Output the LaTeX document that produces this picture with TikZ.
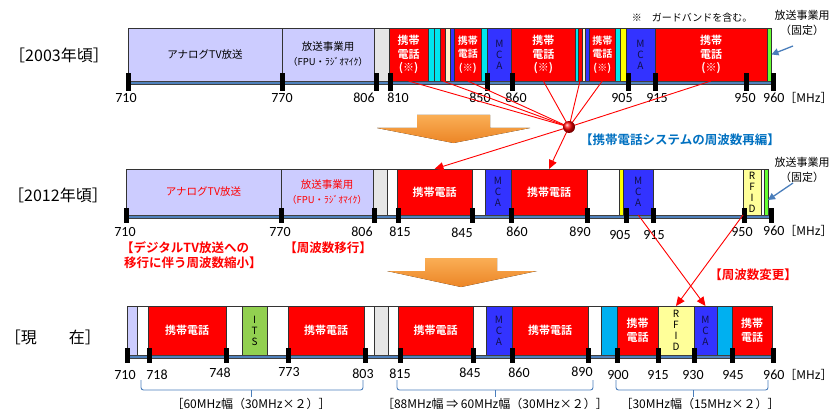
\documentclass[tikz,border=0pt]{standalone}
\usepackage{fontspec}
\setmainfont{Carlito}
\newfontfamily\jp{Noto Sans CJK JP}[BoldFont={Noto Sans CJK JP Bold}]
\usetikzlibrary{arrows.meta}
\definecolor{lav}{HTML}{CCCCFF}
\definecolor{gry}{HTML}{E6E6E6}
\definecolor{rd}{HTML}{FF0000}
\definecolor{cy}{HTML}{00E5EE}
\definecolor{bl}{HTML}{3333FF}
\definecolor{yl}{HTML}{FFFF00}
\definecolor{lyl}{HTML}{FFFF99}
\definecolor{crm}{HTML}{FFF2CC}
\definecolor{grn}{HTML}{66FF33}
\definecolor{itsg}{HTML}{92D050}
\definecolor{lbl}{HTML}{00B0F0}
\definecolor{axb}{HTML}{4F81BD}
\definecolor{brc}{HTML}{4A7EBB}
\definecolor{ttl}{HTML}{0070C0}
\definecolor{orA}{HTML}{FAAE55}
\definecolor{orB}{HTML}{EC8526}
\definecolor{navy}{HTML}{10104A}
\newcommand{\bandblk}[7]{%
  \pgfmathsetmacro\bw{#3-#2}\pgfmathsetmacro\bh{#5-#4}%
  \node[blkst, minimum width=\bw pt, minimum height=\bh pt, anchor=north west, #6] (#1) at (#2,#4) {#7};}
\begin{document}
\begin{tikzpicture}[x=1pt,y=-1pt,
  blkst/.style={draw=black!80, line width=0.6pt, inner sep=0pt, outer sep=0pt},
  celltxt/.style={text=white, align=center, font=\jp\bfseries\fontsize{11}{13.5}\selectfont},
  celltxs/.style={text=white, align=center, font=\jp\bfseries\fontsize{10}{13.5}\selectfont},
  cellone/.style={text=white, align=center, font=\jp\bfseries\fontsize{11}{13}\selectfont},
  vtxt/.style={text=navy, align=center, font=\jp\fontsize{10}{11}\selectfont},
  lavtxt/.style={align=center, font=\jp\fontsize{10.5}{15}\selectfont},
  fpu/.style={},
  axst/.style={fill=axb, draw=black!75, line width=0.5pt, inner sep=0pt, outer sep=0pt, anchor=north west},
  tickst/.style={fill=black, inner sep=0pt, minimum width=5pt},
  numlbl/.style={inner sep=0pt, font=\fontsize{14}{14}\selectfont},
  rowlbl/.style={inner sep=0pt, font=\jp\fontsize{16}{16}\selectfont},
  redtxt/.style={text=red, inner sep=0pt, font=\jp\bfseries\fontsize{12.5}{15}\selectfont},
  redln/.style={draw=red, line width=0.9pt},
  redarr/.style={draw=red, line width=0.9pt, -{Triangle[length=9pt,width=8pt]}},
  bluearr/.style={draw=brc, line width=1.3pt, -{Triangle[length=7pt,width=7pt]}},
  bracest/.style={draw=brc, line width=0.9pt, rounded corners=2.5pt},
  brlbl/.style={inner sep=0pt, font=\jp\fontsize{12}{12}\selectfont},
  fixlbl/.style={align=center, inner sep=0pt, font=\jp\fontsize{11}{15}\selectfont}
]
\useasboundingbox (0,0) rectangle (832,409);

% orange block arrows
\fill[top color=orA, bottom color=orB] (417,115) -- (490,115) -- (490,128) -- (530,128) -- (453.5,143) -- (377,128) -- (417,128) -- cycle;
\fill[top color=orA, bottom color=orB] (425,258) -- (497,258) -- (497,271) -- (537,271) -- (461,287) -- (387,271) -- (425,271) -- cycle;

% row labels
\node[rowlbl] (row1) at (59,55) {［2003年頃］};
\node[rowlbl] (row2) at (58,195) {［2012年頃］};
\node[rowlbl] (row3) at (53,337) {［現　　在］};

% ---------- top row (2003) ----------
\bandblk{t1}{128}{282}{28}{81}{fill=lav, lavtxt}{アナログTV放送}
\bandblk{t2}{282}{374}{28}{81}{fill=lav, lavtxt}{放送事業用\\{\fontsize{9.5}{10}\selectfont （FPU・ﾗｼﾞｵﾏｲｸ）}}
\bandblk{t3}{374}{389}{28}{81}{fill=gry}{}
\bandblk{t4}{389}{428}{28}{81}{fill=rd, celltxt}{携帯\\電話\\(※)}
\bandblk{t5}{428}{434}{28}{81}{fill=cy}{}
\bandblk{t6}{434}{440}{28}{81}{fill=cy}{}
\bandblk{t7}{440}{445.5}{28}{81}{fill=rd}{}
\bandblk{t8}{445.5}{450}{28}{81}{fill=crm}{}
\bandblk{t9}{450}{454}{28}{81}{fill=bl}{}
\bandblk{t10}{454}{481.5}{28}{81}{fill=rd, celltxs}{携帯\\電話\\(※)}
\bandblk{t11}{481.5}{487}{28}{81}{fill=cy}{}
\bandblk{t12}{487}{511.7}{28}{81}{fill=bl, vtxt}{M\\C\\A}
\bandblk{t13}{511.7}{575}{28}{81}{fill=rd, celltxt}{携帯\\電話\\(※)}
\bandblk{t14}{575}{578}{28}{81}{fill=cy}{}
\bandblk{t15}{578}{582}{28}{81}{fill=rd}{}
\bandblk{t16}{582}{585}{28}{81}{fill=crm}{}
\bandblk{t17}{585}{589.5}{28}{81}{fill=bl}{}
\bandblk{t18}{589.5}{615}{28}{81}{fill=rd, celltxs}{携帯\\電話\\(※)}
\bandblk{t19}{615}{620.7}{28}{81}{fill=cy}{}
\bandblk{t20}{620.7}{626}{28}{81}{fill=yl}{}
\bandblk{t21}{626}{655}{28}{81}{fill=bl, vtxt}{M\\C\\A}
\bandblk{t22}{655}{767}{28}{81}{fill=rd, celltxt}{携帯\\電話\\(※)}
\bandblk{t23}{767}{771.5}{28}{81}{fill=grn}{}
\node[axst, minimum width=645pt, minimum height=3.5pt] (ax1) at (128,81) {};
\foreach \x/\n in {128/710,282/770,376/806,390/810,487/850,512/860,628/905,655/915,746/950,773/960}
  \node[tickst, minimum height=18pt] (tt\n) at (\x,82) {};
\foreach \x/\n in {126/710,282/770,364/806,398/810,480/850,516/860,622/905,657/915,745/950}
  \node[numlbl] (tl\n) at (\x,98) {\n};
\node[numlbl, anchor=west] (tl960) at (763,98) {960{\jp\fontsize{12}{12}\selectfont［MHz］}};
\node[inner sep=0pt, font=\jp\fontsize{10}{10}\selectfont] (note) at (692,18) {※　ガードバンドを含む。};
\node[fixlbl] (fx1) at (802,22.5) {放送事業用\\（固定）};
\coordinate (a1s) at (793,46);
\draw[bluearr] (a1s) -- (t23.east);

% ---------- middle row (2012) ----------
\bandblk{m1}{126}{281}{169}{215}{fill=lav, lavtxt, text=red}{アナログTV放送}
\bandblk{m2}{281}{373}{169}{215}{fill=lav, lavtxt, text=red}{放送事業用\\{\fontsize{9.5}{10}\selectfont （FPU・ﾗｼﾞｵﾏｲｸ）}}
\bandblk{m3}{373}{387}{169}{215}{fill=gry}{}
\bandblk{m4}{387}{397}{169}{215}{fill=white}{}
\bandblk{m5}{397}{472}{169}{215}{fill=rd, cellone}{携帯電話}
\bandblk{m6}{472}{485}{169}{215}{fill=white}{}
\bandblk{m7}{485}{511}{169}{215}{fill=bl, vtxt}{M\\C\\A}
\bandblk{m8}{511}{587}{169}{215}{fill=rd, cellone}{携帯電話}
\bandblk{m9}{587}{619}{169}{215}{fill=white}{}
\bandblk{m10}{619}{623.5}{169}{215}{fill=yl}{}
\bandblk{m11}{623.5}{653}{169}{215}{fill=bl, vtxt}{M\\C\\A}
\bandblk{m12}{653}{743}{169}{215}{fill=white}{}
\bandblk{m13}{743}{761}{169}{215}{fill=lyl, vtxt, text=black}{R\\F\\I\\D}
\bandblk{m14}{761}{764}{169}{215}{fill=white}{}
\bandblk{m15}{764}{768}{169}{215}{fill=grn}{}
\node[axst, minimum width=645pt, minimum height=3.5pt] (ax2) at (126,215) {};
\foreach \x/\n in {126/710,281/770,374/806,398/815,472/845,511/860,587/890,626/905,653/915,744/950,771/960}
  \node[tickst, minimum height=15pt] (mt\n) at (\x,215.5) {};
\foreach \x/\y/\n in {125/232/710,280/232/770,362/232/806,400/232/815,462/233/845,517/232/860,580/232/890,620/235/905,654/235/915,742/232/950}
  \node[numlbl] (ml\n) at (\x,\y) {\n};
\node[numlbl, anchor=west] (ml960) at (763,231) {960{\jp\fontsize{12}{12}\selectfont［MHz］}};
\node[fixlbl] (fx2) at (802,169.5) {放送事業用\\（固定）};
\coordinate (a2s) at (793,183);
\draw[bluearr] (a2s) -- ([yshift=-8pt]m15.east);

\node[redtxt, anchor=west, align=left] (r1) at (121,255.5) {【デジタルTV放送への\\\ 移行に伴う周波数縮小】};
\node[redtxt] (r2) at (328,248) {【周波数移行】};
\node[redtxt] (r3) at (753,275) {【周波数変更】};
\node[inner sep=0pt, text=ttl, font=\jp\bfseries\fontsize{12.5}{15}\selectfont] (ttl) at (680,140) {【携帯電話システムの周波数再編】};

% ---------- bottom row (present) ----------
\bandblk{b1}{127}{137}{306}{355}{fill=lav}{}
\bandblk{b2}{137}{148}{306}{355}{fill=white}{}
\bandblk{b3}{148}{226}{306}{355}{fill=rd, cellone}{携帯電話}
\bandblk{b4}{226}{242}{306}{355}{fill=white}{}
\bandblk{b5}{242}{267}{306}{355}{fill=itsg, vtxt, text=black}{I\\T\\S}
\bandblk{b6}{267}{288}{306}{355}{fill=white}{}
\bandblk{b7}{288}{364}{306}{355}{fill=rd, cellone}{携帯電話}
\bandblk{b8}{364}{374}{306}{355}{fill=white}{}
\bandblk{b9}{374}{388}{306}{355}{fill=gry}{}
\bandblk{b10}{388}{398}{306}{355}{fill=white}{}
\bandblk{b11}{398}{473}{306}{355}{fill=rd, cellone}{携帯電話}
\bandblk{b12}{473}{486}{306}{355}{fill=white}{}
\bandblk{b13}{486}{512}{306}{355}{fill=bl, vtxt}{M\\C\\A}
\bandblk{b14}{512}{588}{306}{355}{fill=rd, cellone}{携帯電話}
\bandblk{b15}{588}{601}{306}{355}{fill=white}{}
\bandblk{b16}{601}{617}{306}{355}{fill=lbl}{}
\bandblk{b17}{617}{658}{306}{355}{fill=rd, celltxt}{携帯\\電話}
\bandblk{b18}{658}{694}{306}{355}{fill=lyl, vtxt, text=black}{R\\F\\I\\D}
\bandblk{b19}{694}{717}{306}{355}{fill=bl, vtxt}{M\\C\\A}
\bandblk{b20}{717}{732}{306}{355}{fill=lbl}{}
\bandblk{b21}{732}{772}{306}{355}{fill=rd, celltxt}{携帯\\電話}
\node[axst, minimum width=646pt, minimum height=3.5pt] (ax3) at (127,355) {};
\foreach \x/\n in {127/710,149/718,226/748,288/773,365/803,400/815,473/845,512/860,588/890,617/900,658.7/915,694/930,732/945,773/960}
  \node[tickst, minimum height=15pt] (bt\n) at (\x,355.5) {};
\foreach \x/\y/\n in {125/375/710,157/375/718,220/373/748,289/372/773,363/374/803,400/374/815,470/373/845,519/373/860,582/372/890,618/375/900,658/375/915,693/375/930,733/375/945}
  \node[numlbl] (bl\n) at (\x,\y) {\n};
\node[numlbl, anchor=west] (bl960) at (763,375) {960{\jp\fontsize{12}{12}\selectfont［MHz］}};

% braces
\draw[bracest] (141,380) -- (141,390) -- (363,390) -- (363,380);
\draw[bracest] (251,390) -- (251,397);
\draw[bracest] (397,380) -- (397,390) -- (593,390) -- (593,380);
\draw[bracest] (495,390) -- (495,397);
\draw[bracest] (616,380) -- (616,390) -- (768,390) -- (768,380);
\draw[bracest] (693,390) -- (693,397);
\node[brlbl] (br1) at (251,404) {［60MHz幅（30MHz×２）］};
\node[brlbl] (br2) at (495,404) {［88MHz幅 ⇒ 60MHz幅（30MHz×２）］};
\node[brlbl] (br3) at (700,404) {［30MHz幅（15MHz×２）］};

% red connectors
\coordinate (hubc) at (569,127);
\foreach \b in {t4,t7,t10,t13,t15,t18,t22}
  \draw[redln] (\b.south) -- (hubc);
\draw[redarr] (hubc) -- (m5.north);
\draw[redarr] (hubc) -- (m8.north);
\node[circle, ball color=red, minimum size=12pt, inner sep=0pt] (hub) at (hubc) {};
\draw[redarr] (m11.south) -- (b19.north);
\draw[redarr] (m13.south west) -- (b18.north);
\end{tikzpicture}
\end{document}
